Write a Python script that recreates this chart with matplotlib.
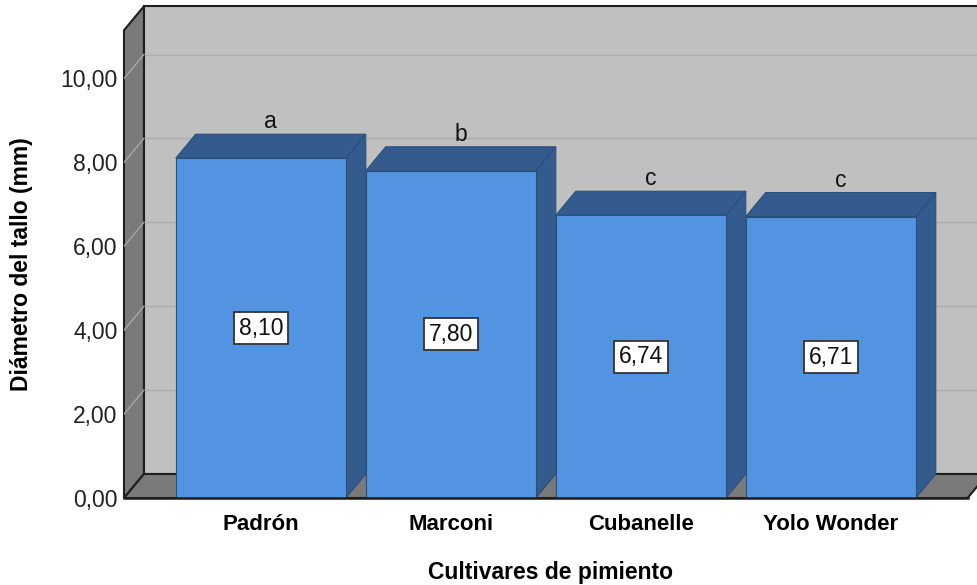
import matplotlib.pyplot as plt
from matplotlib.patches import Polygon

plt.rcParams['font.family'] = ['Liberation Sans', 'DejaVu Sans']

# Stem diameter per pepper cultivar
cultivares = ['Padrón', 'Marconi', 'Cubanelle', 'Yolo Wonder']
diametro = [8.10, 7.80, 6.74, 6.71]
letras = ['a', 'b', 'c', 'c']
yticks = [0, 2, 4, 6, 8, 10]

# 3D look: depth offset in data units
ddx, ddy = 0.105, 0.572
x0, x1 = -0.72, 3.72
ytop = 11.15
w = 0.895

front = '#5294e2'
dark = '#335b8d'
wall = '#7a7a7a'
back = '#c0c0c0'
edge = '#1e1e1e'

fig = plt.figure(figsize=(9.77, 5.85), dpi=100)
ax = fig.add_axes([124 / 977, 87 / 585, 853 / 977, 493 / 585])
ax.set_xlim(x0, x0 + 853 / 190)
ax.set_ylim(0, 493 / 41.95)

def poly(pts, fc, ec=edge, lw=1.0, z=1):
    ax.add_patch(Polygon(pts, closed=True, facecolor=fc, edgecolor=ec,
                         linewidth=lw, zorder=z, clip_on=False))

# back wall and its gridlines
poly([(x0 + ddx, ddy), (x1 + ddx, ddy), (x1 + ddx, ytop + ddy), (x0 + ddx, ytop + ddy)],
     back, lw=1.5, z=1)
for t in yticks[1:]:
    ax.plot([x0 + ddx, x1 + ddx], [t + ddy, t + ddy], color='#acacac', lw=1.0, zorder=1.5)

# left wall and floor
poly([(x0, 0), (x0 + ddx, ddy), (x0 + ddx, ytop + ddy), (x0, ytop)], wall, lw=1.5, z=2)
poly([(x0, 0), (x1, 0), (x1 + ddx, ddy), (x0 + ddx, ddy)], wall, lw=1.5, z=2)
for t in yticks[1:]:
    ax.plot([x0, x0 + ddx], [t, t + ddy], color='#a8a8a8', lw=1.0, zorder=2.5)

# bars
for i, (v, l) in enumerate(zip(diametro, letras)):
    xl, xr = i - w / 2, i + w / 2
    z = 3 + i
    poly([(xr, 0), (xr + ddx, ddy), (xr + ddx, v + ddy), (xr, v)], dark, ec='#2c4f7a', lw=0.8, z=z)
    poly([(xl, v), (xr, v), (xr + ddx, v + ddy), (xl + ddx, v + ddy)], dark, ec='#2c4f7a', lw=0.8, z=z)
    poly([(xl, 0), (xr, 0), (xr, v), (xl, v)], front, ec='#2c4f7a', lw=0.8, z=z)
    ax.text(i, v / 2, f'{v:.2f}'.replace('.', ','), ha='center', va='center',
            fontsize=16.5, color='#111111', zorder=10,
            bbox=dict(boxstyle='square,pad=0.2', facecolor='white',
                      edgecolor='#333333', linewidth=1.3))
    ax.text(i + ddx / 2, v + ddy + 0.02, l, ha='center', va='bottom',
            fontsize=16.5, color='#111111', zorder=10)

ax.plot([x0, x1], [0, 0], color=edge, lw=1.8, zorder=9, clip_on=False)

for s in ax.spines.values():
    s.set_visible(False)
ax.set_yticks(yticks)
ax.set_yticklabels([f'{t:.2f}'.replace('.', ',') for t in yticks], fontsize=16.5, color='#222222')
ax.set_xticks(range(len(cultivares)))
ax.set_xticklabels(cultivares, fontsize=16, fontweight='bold')
ax.tick_params(axis='y', length=0, pad=4.5)
ax.tick_params(axis='x', length=0, pad=11.5)
ax.set_xlabel('Cultivares de pimiento', fontsize=16.5, fontweight='bold', labelpad=19)
ax.set_ylabel('Diámetro del tallo (mm)', fontsize=16.5, fontweight='bold')
ax.yaxis.set_label_coords(-91 / 853, (498 - 264) / 493)

fig.savefig('out.png', dpi=100)
